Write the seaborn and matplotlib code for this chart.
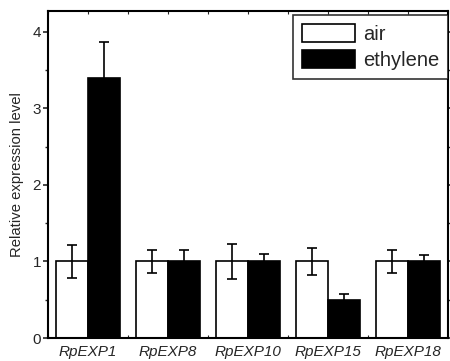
import matplotlib
matplotlib.use("Agg")
import matplotlib.pyplot as plt
from matplotlib.ticker import MultipleLocator, FixedLocator
import numpy as np
import pandas as pd
import seaborn as sns

genes = ["RpEXP1", "RpEXP8", "RpEXP10", "RpEXP15", "RpEXP18"]
conditions = ["air", "ethylene"]
air_mean = [1.0, 1.0, 1.0, 1.0, 1.0]
air_err = [0.22, 0.15, 0.23, 0.18, 0.15]
eth_mean = [3.40, 1.0, 1.0, 0.50, 1.0]
eth_err = [0.47, 0.15, 0.10, 0.08, 0.08]

df = pd.DataFrame({
    "gene": genes * 2,
    "condition": ["air"] * len(genes) + ["ethylene"] * len(genes),
    "value": air_mean + eth_mean,
    "err": air_err + eth_err,
})

sns.set_style("ticks")
plt.rcParams["font.family"] = ["Liberation Sans", "DejaVu Sans"]

fig = plt.figure(figsize=(4.5, 3.61), dpi=100)
ax = fig.add_axes([0.1067, 0.0637, 0.8889, 0.9058])

sns.barplot(data=df, x="gene", y="value", hue="condition", order=genes,
            hue_order=conditions, palette={"air": "white", "ethylene": "black"},
            edgecolor="black", linewidth=1.2, width=0.8, errorbar=None, ax=ax,
            saturation=1)

# error bars on top of each bar, located from the drawn patches
for cont, cond in zip(ax.containers, conditions):
    sub = df[df["condition"] == cond].set_index("gene").loc[genes]
    xs = [p.get_x() + p.get_width() / 2 for p in cont.patches]
    ax.errorbar(xs, sub["value"], yerr=sub["err"], fmt="none",
                ecolor="black", elinewidth=1.2, capsize=3.6, capthick=1.2,
                zorder=3)

ax.set_xlim(-0.5, 4.5)
ax.set_ylim(0, 4.27)
ax.set_xlabel("")
ax.set_ylabel("Relative expression level", fontsize=10.7, labelpad=6)

ax.yaxis.set_major_locator(FixedLocator([0, 1, 2, 3, 4]))
ax.yaxis.set_minor_locator(MultipleLocator(0.5))
ax.xaxis.set_minor_locator(FixedLocator(np.arange(-0.5, 5, 1.0)))
ax.set_xticks(range(len(genes)))
ax.set_xticklabels(genes, fontstyle="italic", fontsize=11)
ax.tick_params(axis="y", which="major", direction="out", length=3.5, width=1.2,
               labelsize=11, pad=1.5)
ax.tick_params(axis="y", which="minor", direction="out", length=2, width=1.0)
ax.tick_params(axis="x", which="both", direction="in", length=2.5, width=0.8,
               top=True, pad=5)
ax.tick_params(axis="y", which="both", right=True)
for s in ax.spines.values():
    s.set_visible(True)
    s.set_linewidth(1.5)
    s.set_color("black")

leg = ax.legend(loc="upper right", bbox_to_anchor=(1.0, 1 - 4 / 327),
                borderaxespad=0, fontsize=14.5, handlelength=2.6,
                handleheight=1.0, labelspacing=0.3, borderpad=0.45,
                handletextpad=0.4, fancybox=False, frameon=True, title=None)
leg.get_frame().set_edgecolor("black")
leg.get_frame().set_linewidth(1.2)
for h in leg.legend_handles:
    h.set_edgecolor("black")
    h.set_linewidth(1.2)

fig.savefig("out.png", dpi=100)
